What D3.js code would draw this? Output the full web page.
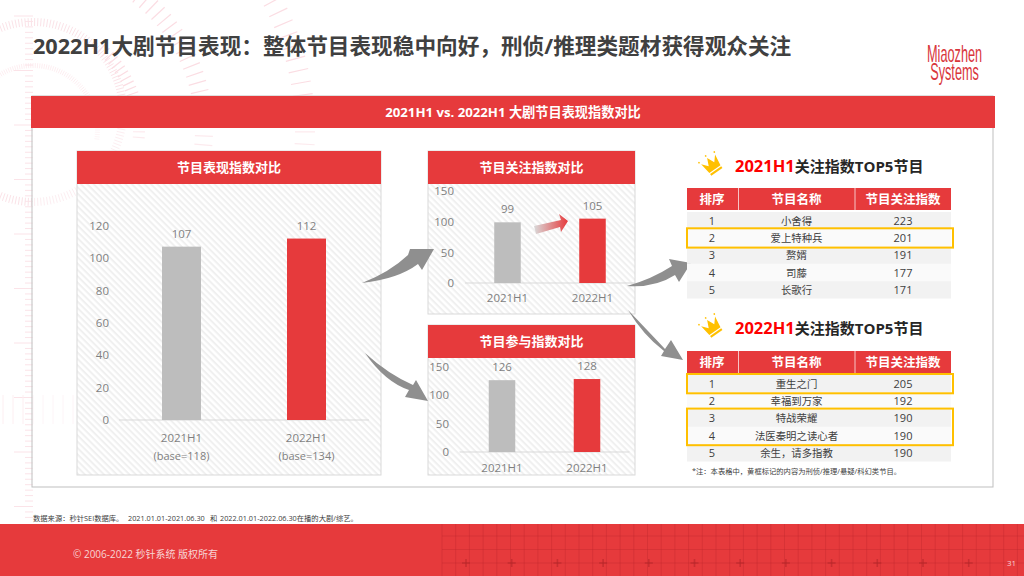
<!DOCTYPE html>
<html>
<head>
<meta charset="utf-8">
<script src="https://cdn.jsdelivr.net/npm/d3@7"></script>
<style>
  html, body { margin: 0; padding: 0; background: #fff; overflow: hidden; }
  text { font-family: "Open Sans", "Noto Sans CJK SC", sans-serif; }
</style>
</head>
<body>
<svg id="slide" width="1024" height="576"></svg>
<script>
// Chart data
var periods = ["2021H1", "2022H1"];
var baseLabels = ["(base=118)", "(base=134)"];
var showValues = [107, 112];
var attentionValues = [99, 105];
var joinValues = [126, 128];
var showTicks = [0, 20, 40, 60, 80, 100, 120];
var smallTicks = [0, 50, 100, 150];

// Table data
var tableColumns = ["排序", "节目名称", "节目关注指数"];
var ranks = [1, 2, 3, 4, 5];
var names2021 = ["小舍得", "爱上特种兵", "赘婿", "司藤", "长歌行"];
var scores2021 = [223, 201, 191, 177, 171];
var names2022 = ["重生之门", "幸福到万家", "特战荣耀", "法医秦明之读心者", "余生，请多指教"];
var scores2022 = [205, 192, 190, 190, 190];

var RED = "#e63a3c";
var GOLD = "#ffc000";
var TEXT = "#7f7f7f";

var svg = d3.select("#slide");
var defs = svg.append("defs");

// Diagonal hatch behind the charts
var hatch = defs.append("pattern")
  .attr("id", "hatch")
  .attr("width", 4.5)
  .attr("height", 4.5)
  .attr("patternUnits", "userSpaceOnUse")
  .attr("patternTransform", "rotate(45)");
hatch.append("rect").attr("width", 4.5).attr("height", 4.5).attr("fill", "#fff");
hatch.append("rect").attr("width", 4.5).attr("height", 2).attr("fill", "#f0f0f0");

var fade = defs.append("linearGradient").attr("id", "fade");
fade.append("stop").attr("offset", "0%").attr("stop-color", "#d9d9d9");
fade.append("stop").attr("offset", "100%").attr("stop-color", RED);

// Pink decoration in the background
var deco = svg.append("g").attr("fill", "none");
function ring(cx, cy, r, len, from, to, step, width, color) {
  d3.range(from, to, step).forEach((a) => {
    var t = a * Math.PI / 180;
    deco.append("line")
      .attr("x1", cx + r * Math.cos(t))
      .attr("y1", cy + r * Math.sin(t))
      .attr("x2", cx + (r + len) * Math.cos(t))
      .attr("y2", cy + (r + len) * Math.sin(t))
      .attr("stroke", color)
      .attr("stroke-width", width);
  });
}
ring(33, 112, 86, 8, -115, 115, 2, 1, "#fbe3e8");
ring(33, 130, 62, 5, -150, 10, 2, 0.8, "#fceaee");
ring(33, 130, 100, 12, -50, 6, 3, 1.2, "#fbdde3");
ring(33, 130, 162, 18, -70, 6, 3, 1.2, "#fbdde3");
ring(33, 130, 262, 20, -75, 6, 2.6, 1.2, "#fbdde3");
d3.range(16, 522, 5.45).forEach((y, i) => {
  deco.append("line")
    .attr("x1", i % 10 == 0 ? 14 : 25)
    .attr("x2", 33)
    .attr("y1", y)
    .attr("y2", y)
    .attr("stroke", "#fbe3e8");
});
d3.range(3, 78, 10).forEach((x) => {
  deco.append("line")
    .attr("x1", x).attr("x2", x)
    .attr("y1", 395).attr("y2", 424)
    .attr("stroke", "#fdeef1");
});

// Title and logo
svg.append("text")
  .attr("x", 33)
  .attr("y", 54)
  .attr("font-size", 21.65)
  .attr("font-weight", 700)
  .attr("fill", "#404040")
  .text("2022H1大剧节目表现：整体节目表现稳中向好，刑侦/推理类题材获得观众关注");

var logo = svg.append("text")
  .attr("transform", "translate(927,62) scale(0.53,1)")
  .attr("font-size", 24)
  .attr("fill", "#d9363c")
  .style("font-family", "'Liberation Sans Narrow', 'Liberation Sans'");
logo.append("tspan").attr("x", 0).attr("y", 0).text("Miaozhen");
logo.append("tspan").attr("x", 6).attr("y", 18).text("Systems");

// Outer panel
svg.append("rect")
  .attr("x", 32).attr("y", 96).attr("width", 961).attr("height", 391)
  .attr("fill", "#fff").attr("fill-opacity", 0.4)
  .attr("stroke", "#bfbfbf");

function banner(x, y, w, h, label, size) {
  svg.append("rect")
    .attr("x", x).attr("y", y).attr("width", w).attr("height", h)
    .attr("fill", RED);
  svg.append("text")
    .attr("x", x + w / 2)
    .attr("y", y + h / 2 + size * 0.36)
    .attr("text-anchor", "middle")
    .attr("font-size", size)
    .attr("font-weight", 700)
    .attr("fill", "#fff")
    .text(label);
}
banner(31, 96, 964, 32, "2021H1 vs. 2022H1 大剧节目表现指数对比", 13.2);

// One chart card: banner, hatch, axis, two bars
function buildCard(card) {
  svg.append("rect")
    .attr("x", card.x).attr("y", card.top)
    .attr("width", card.w).attr("height", card.bottom - card.top)
    .attr("fill", "url(#hatch)")
    .attr("stroke", "#d9d9d9");
  banner(card.x, card.top, card.w, 33, card.title, 13);

  var x = d3.scaleBand()
    .domain(periods)
    .range(card.xRange)
    .paddingInner(0.688)
    .paddingOuter(0.344);
  var y = d3.scaleLinear()
    .domain([0, card.max])
    .range([card.zero, card.zero - card.max * card.unit]);

  var g = svg.append("g");

  var yAxis = g.append("g")
    .attr("transform", `translate(${card.tickX},0)`)
    .call(d3.axisLeft(y).tickValues(card.ticks).tickSize(0).tickPadding(0));
  yAxis.select(".domain").remove();
  yAxis.selectAll("text")
    .attr("fill", TEXT)
    .style("font-family", "'Open Sans'")
    .attr("font-size", 11.5);

  g.append("line")
    .attr("x1", card.xRange[0]).attr("x2", card.xRange[1])
    .attr("y1", card.zero).attr("y2", card.zero)
    .attr("stroke", "#d9d9d9");

  g.selectAll("rect.bar")
    .data(card.values)
    .join("rect")
    .attr("class", "bar")
    .attr("x", (d, i) => x(periods[i]))
    .attr("y", (d) => y(d))
    .attr("width", x.bandwidth())
    .attr("height", (d) => card.zero - y(d))
    .attr("fill", (d, i) => (i == 0 ? "#bdbdbd" : RED));

  g.selectAll("text.val")
    .data(card.values)
    .join("text")
    .attr("class", "val")
    .attr("x", (d, i) => x(periods[i]) + x.bandwidth() / 2)
    .attr("y", (d) => y(d) - 9)
    .attr("text-anchor", "middle")
    .attr("font-size", 11.5)
    .attr("fill", TEXT)
    .text((d) => d);

  g.selectAll("text.cat")
    .data(periods)
    .join("text")
    .attr("class", "cat")
    .attr("x", (d) => x(d) + x.bandwidth() / 2)
    .attr("y", card.zero + card.catGap)
    .attr("text-anchor", "middle")
    .attr("font-size", 11.5)
    .attr("fill", TEXT)
    .text((d) => d);

  if (card.notes) {
    g.selectAll("text.note")
      .data(card.notes)
      .join("text")
      .attr("class", "note")
      .attr("x", (d, i) => x(periods[i]) + x.bandwidth() / 2)
      .attr("y", card.zero + card.catGap + 18)
      .attr("text-anchor", "middle")
      .attr("font-size", 11)
      .attr("fill", TEXT)
      .text((d) => d);
  }
}

buildCard({
  title: "节目表现指数对比", x: 77, w: 304, top: 151, bottom: 475,
  values: showValues, notes: baseLabels, ticks: showTicks, max: 120,
  zero: 420, unit: 1.62, xRange: [119, 369], tickX: 109, catGap: 22
});
buildCard({
  title: "节目关注指数对比", x: 428, w: 207, top: 151, bottom: 314,
  values: attentionValues, ticks: smallTicks, max: 150,
  zero: 283, unit: 0.613, xRange: [465, 635], tickX: 454, catGap: 19
});
buildCard({
  title: "节目参与指数对比", x: 428, w: 207, top: 325, bottom: 475,
  values: joinValues, ticks: smallTicks, max: 150,
  zero: 452, unit: 0.57, xRange: [459.5, 629.5], tickX: 449, catGap: 20
});

// Grey arrows between the cards
var arrows = [
  "M362,283 Q390,272 408,255 L410,249 L434,249 L422,270 L418,264 Q398,279 362,283 Z",
  "M365,353 Q388,374 413,385 L416,380 L428,401 L405,397 L409,390 Q385,382 365,353 Z",
  "M627,286 Q652,279 672,266 L669,259 L691,263 L679,282 L675,275 Q655,288 627,286 Z",
  "M628,310 Q650,333 665,349 L671,340 L683,360 L661,356 L664,351 Q643,335 628,310 Z"
];
svg.selectAll("path.arrow")
  .data(arrows)
  .join("path")
  .attr("class", "arrow")
  .attr("d", (d) => d)
  .attr("fill", "#8f8f8f");

svg.append("path")
  .attr("d", "M534,226 L561,220 L559,214 L568,221 L561,232 L560,227 L536,234 Z")
  .attr("fill", "url(#fade)");

// Crown icon
function crown(x, y) {
  var g = svg.append("g").attr("transform", `translate(${x},${y}) rotate(-35) scale(0.85)`);
  g.append("path")
    .attr("d", "M-10,-8 L-4,-1 L0,-10 L4,-1 L10,-8 L8,6 L-8,6 Z")
    .attr("fill", GOLD);
  g.append("rect")
    .attr("x", -8).attr("y", 7.5).attr("width", 16).attr("height", 2.5)
    .attr("fill", GOLD);
  [[-11, -11], [0, -13], [11, -11]].forEach((p) => {
    g.append("circle").attr("cx", p[0]).attr("cy", p[1]).attr("r", 1).attr("fill", GOLD);
  });
}

// One table block: heading, header row, five rows, gold boxes
var colEdges = [687, 738.5, 855, 951];
var colMid = [712, 796.5, 903];

function buildTable(block) {
  crown(712, block.headY - 7);
  var head = svg.append("text")
    .attr("x", 735)
    .attr("y", block.headY)
    .attr("font-size", 15)
    .attr("font-weight", 700)
    .attr("fill", "#262626");
  head.append("tspan").attr("fill", "#fe0000").attr("font-size", 16.5).text(block.label);
  head.append("tspan").text("关注指数TOP5节目");

  svg.append("rect")
    .attr("x", colEdges[0]).attr("y", block.top)
    .attr("width", colEdges[3] - colEdges[0]).attr("height", 22)
    .attr("fill", RED);
  colEdges.slice(1, 3).forEach((e) => {
    svg.append("line")
      .attr("x1", e).attr("x2", e)
      .attr("y1", block.top).attr("y2", block.top + 22)
      .attr("stroke", "#f7c4c5");
  });
  svg.selectAll(null)
    .data(tableColumns)
    .join("text")
    .attr("x", (d, i) => colMid[i])
    .attr("y", block.top + 15.5)
    .attr("text-anchor", "middle")
    .attr("font-size", 12.5)
    .attr("font-weight", 700)
    .attr("fill", "#fff")
    .text((d) => d);

  var rowY = d3.scaleBand()
    .domain(ranks)
    .range([block.top + 24, block.top + 24 + 5 * 17.3]);

  svg.selectAll(null)
    .data(ranks)
    .join("rect")
    .attr("x", colEdges[0])
    .attr("y", (d) => rowY(d))
    .attr("width", colEdges[3] - colEdges[0])
    .attr("height", rowY.bandwidth())
    .attr("fill", (d) => (d % 2 == 1 ? "#f2f2f2" : "#fafafa"));

  ranks.forEach((rank, i) => {
    var cells = [rank, block.names[i], block.scores[i]];
    svg.selectAll(null)
      .data(cells)
      .join("text")
      .attr("x", (d, c) => colMid[c])
      .attr("y", rowY(rank) + 12.8)
      .attr("text-anchor", "middle")
      .attr("font-size", (d, c) => (c == 1 ? 10.4 : 11))
      .attr("fill", "#404040")
      .text((d) => d);
  });

  // Gold boxes mark the crime/mystery titles
  block.boxes.forEach((b) => {
    svg.append("rect")
      .attr("x", colEdges[0])
      .attr("y", rowY(b[0]) - 1)
      .attr("width", 266)
      .attr("height", rowY(b[1]) + rowY.bandwidth() - rowY(b[0]) + 2)
      .attr("fill", "none")
      .attr("stroke", GOLD)
      .attr("stroke-width", 2);
  });
}

buildTable({ label: "2021H1", headY: 172, top: 188, names: names2021, scores: scores2021, boxes: [[2, 2]] });
buildTable({ label: "2022H1", headY: 334, top: 351, names: names2022, scores: scores2022, boxes: [[1, 1], [3, 4]] });

svg.append("text")
  .attr("x", 692)
  .attr("y", 474)
  .attr("font-size", 7.3)
  .attr("fill", "#404040")
  .text("*注：本表格中，黄框标记的内容为刑侦/推理/悬疑/科幻类节目。");

var source = svg.append("text")
  .attr("y", 521)
  .attr("font-size", 7.3)
  .attr("fill", "#404040");
source.append("tspan").attr("x", 33).text("数据来源：秒针SEI数据库。");
source.append("tspan").attr("x", 128).text("2021.01.01-2021.06.30");
source.append("tspan").attr("x", 210).text("和");
source.append("tspan").attr("x", 220).text("2022.01.01-2022.06.30在播的大剧/综艺。");

// Footer band with its grid
svg.append("rect")
  .attr("x", 0).attr("y", 524).attr("width", 1024).attr("height", 52)
  .attr("fill", RED);
var grid = svg.append("g").attr("stroke", "#b5262a").attr("stroke-opacity", 0.3);
d3.range(442, 1024, 13.7).forEach((x) => {
  grid.append("line").attr("x1", x).attr("x2", x).attr("y1", 524).attr("y2", 576);
});
d3.range(536, 576, 13.5).forEach((y) => {
  grid.append("line").attr("x1", 442).attr("x2", 1024).attr("y1", y).attr("y2", y);
});
d3.range(466, 1000, 45.7).forEach((x) => {
  grid.append("line").attr("x1", x - 4).attr("x2", x + 4).attr("y1", 563).attr("y2", 563).attr("stroke-width", 1.6).attr("stroke-opacity", 0.6);
  grid.append("line").attr("x1", x).attr("x2", x).attr("y1", 559).attr("y2", 567).attr("stroke-width", 1.6).attr("stroke-opacity", 0.6);
});

svg.append("text")
  .attr("x", 73)
  .attr("y", 558)
  .attr("font-size", 10)
  .attr("fill", "#f8d5d5")
  .text("© 2006-2022 秒针系统 版权所有");

svg.append("text")
  .attr("x", 1007)
  .attr("y", 566)
  .attr("font-size", 8)
  .attr("fill", "#f8d5d5")
  .text("31");
</script>
</body>
</html>
